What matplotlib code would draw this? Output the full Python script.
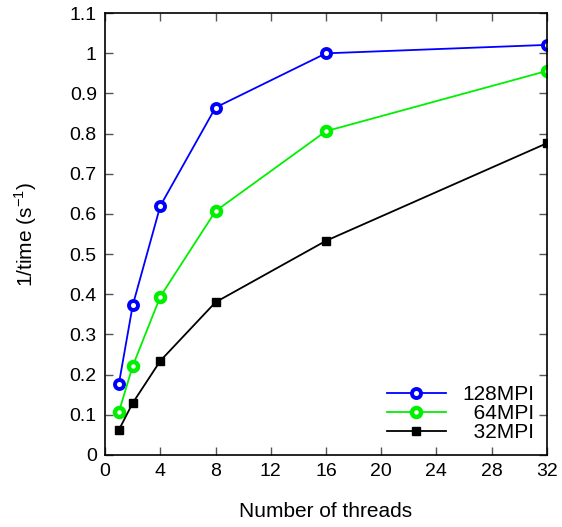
import matplotlib
matplotlib.use("Agg")
import matplotlib.pyplot as plt

plt.rcParams["font.family"] = ["Liberation Sans", "DejaVu Sans"]

threads = [1, 2, 4, 8, 16, 32]
mpi128 = [0.177, 0.372, 0.620, 0.865, 1.000, 1.021]
mpi64 = [0.107, 0.221, 0.394, 0.607, 0.806, 0.956]
mpi32 = [0.062, 0.129, 0.234, 0.380, 0.533, 0.776]
xticks = list(range(0, 33, 4))
yticks = [i / 10 for i in range(12)]
ytick_labels = ["0", "0.1", "0.2", "0.3", "0.4", "0.5", "0.6", "0.7", "0.8", "0.9", "1", "1.1"]

fig = plt.figure(figsize=(5.62, 5.27), dpi=100)
ax = fig.add_axes([0.187, 0.137, 0.786, 0.838])

ax.plot(threads, mpi128, color="#0000ff", lw=1.3, marker="o", ms=6.5,
        mfc="white", mec="#0000ff", mew=2.8, label="128MPI")
ax.plot(threads, mpi64, color="#00f000", lw=1.3, marker="o", ms=6.5,
        mfc="white", mec="#00f000", mew=3.2, label="\u200764MPI")
ax.plot(threads, mpi32, color="black", lw=1.3, marker="s", ms=5.5,
        label="\u200732MPI")

ax.set_xlim(0, 32)
ax.set_ylim(0, 1.1)
ax.set_xticks(xticks)
ax.set_yticks(yticks)
ax.set_yticklabels(ytick_labels)
ax.tick_params(direction="in", length=6, width=1, top=True, right=True,
               labelsize=14, pad=6, color="#555555")
for s in ax.spines.values():
    s.set_linewidth(1.2)

ax.set_xlabel("Number of threads", fontsize=15, labelpad=16)
ax.set_ylabel("1/time (s$^{\\mathregular{-1}}$)", fontsize=15, labelpad=22)

ax.legend(loc="lower right", frameon=False, fontsize=15, handlelength=2.8,
          labelspacing=0.0, borderaxespad=0.2, handletextpad=0.8)

fig.savefig("out.png", dpi=100)
